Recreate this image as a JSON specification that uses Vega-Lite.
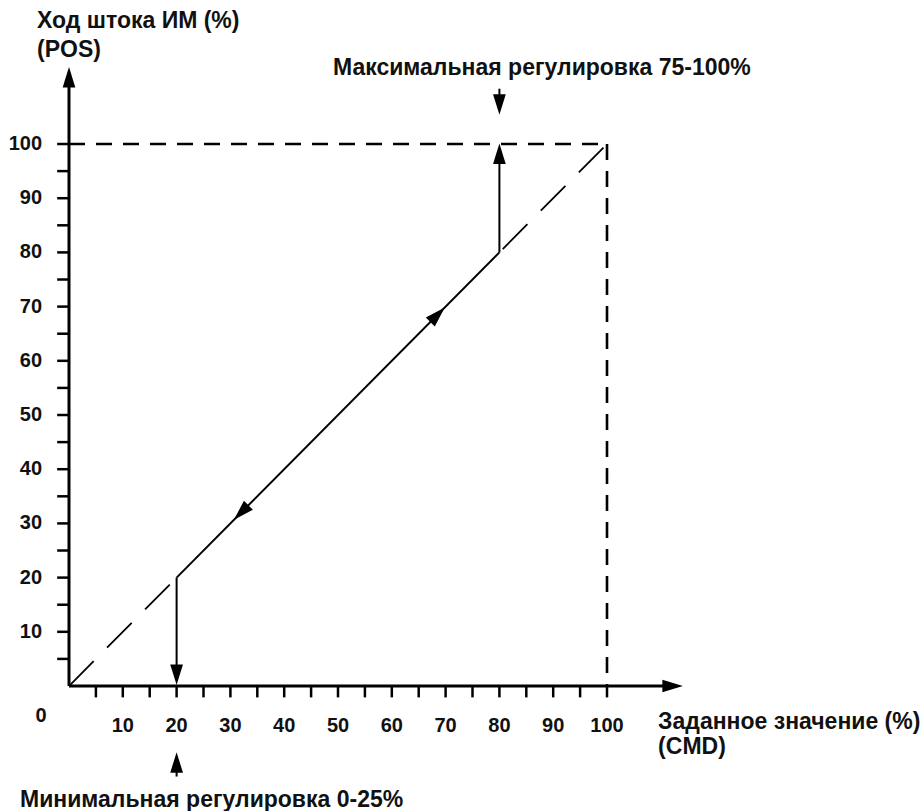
{
  "$schema": "https://vega.github.io/schema/vega-lite/v6.json",
  "width": 924,
  "height": 811,
  "padding": 0,
  "autosize": {"type": "none"},
  "background": "white",
  "config": {"view": {"stroke": null}},
  "datasets": {
    "axes": [
      {"x": 0, "y": 0, "x2": 112, "y2": 0},
      {"x": 0, "y": 0, "x2": 0, "y2": 112}
    ],
    "ticks": [
      {"v": 5}, {"v": 10}, {"v": 15}, {"v": 20}, {"v": 25}, {"v": 30}, {"v": 35}, {"v": 40}, {"v": 45}, {"v": 50},
      {"v": 55}, {"v": 60}, {"v": 65}, {"v": 70}, {"v": 75}, {"v": 80}, {"v": 85}, {"v": 90}, {"v": 95}, {"v": 100}
    ],
    "labels": [
      {"v": 10}, {"v": 20}, {"v": 30}, {"v": 40}, {"v": 50}, {"v": 60}, {"v": 70}, {"v": 80}, {"v": 90}, {"v": 100}
    ],
    "frame": [
      {"x": 0, "y": 100, "x2": 100, "y2": 100},
      {"x": 100, "y": 100, "x2": 100, "y2": 0}
    ],
    "diagLow": [{"x": 0, "y": 0, "x2": 20, "y2": 20}],
    "diagHigh": [{"x": 100, "y": 100, "x2": 80, "y2": 80}],
    "solid": [
      {"x": 20, "y": 20, "x2": 80, "y2": 80},
      {"x": 20, "y": 20, "x2": 20, "y2": 2},
      {"x": 80, "y": 80, "x2": 80, "y2": 98},
      {"x": 80, "y": 110.2, "x2": 80, "y2": 107},
      {"x": 20, "y": -16.7, "x2": 20, "y2": -14}
    ],
    "heads": [
      {"x": 112.2, "y": 0, "deg": 90},
      {"x": 0, "y": 112.3, "deg": 0},
      {"x": 20, "y": 2.1, "deg": 180},
      {"x": 80, "y": 98.2, "deg": 0},
      {"x": 32, "y": 32, "deg": 225},
      {"x": 68.5, "y": 68.5, "deg": 45},
      {"x": 80, "y": 107.3, "deg": 180},
      {"x": 20, "y": -14.1, "deg": 0}
    ],
    "notes": [
      {"x": -5.95, "y": 121.35, "text": "Ход штока ИМ (%)"},
      {"x": -5.95, "y": 116.0, "text": "(POS)"},
      {"x": 49.07, "y": 112.73, "text": "Максимальная регулировка 75-100%"},
      {"x": 109.5, "y": -7.9, "text": "Заданное значение (%)"},
      {"x": 109.5, "y": -12.5, "text": "(CMD)"},
      {"x": -9.1, "y": -22.27, "text": "Минимальная регулировка 0-25%"}
    ]
  },
  "layer": [
    {
      "data": {"name": "axes"},
      "mark": {"type": "rule", "strokeWidth": 3, "color": "#000"},
      "encoding": {
        "x": {"field": "x", "type": "quantitative", "scale": {"domain": [-12.825, 158.92], "nice": false, "zero": false}, "axis": null},
        "y": {"field": "y", "type": "quantitative", "scale": {"domain": [-23.06, 126.57], "nice": false, "zero": false}, "axis": null},
        "x2": {"field": "x2"},
        "y2": {"field": "y2"}
      }
    },
    {
      "data": {"name": "ticks"},
      "mark": {"type": "rule", "strokeWidth": 2.5, "color": "#000"},
      "encoding": {
        "x": {"field": "v", "type": "quantitative"},
        "y": {"datum": 0, "type": "quantitative"},
        "y2": {"datum": -2.1}
      }
    },
    {
      "data": {"name": "ticks"},
      "mark": {"type": "rule", "strokeWidth": 2.5, "color": "#000"},
      "encoding": {
        "y": {"field": "v", "type": "quantitative"},
        "x": {"datum": 0, "type": "quantitative"},
        "x2": {"datum": -2.2}
      }
    },
    {
      "data": {"name": "frame"},
      "mark": {"type": "rule", "strokeWidth": 2.6, "color": "#000", "strokeDash": [16, 11]},
      "encoding": {
        "x": {"field": "x", "type": "quantitative"},
        "y": {"field": "y", "type": "quantitative"},
        "x2": {"field": "x2"},
        "y2": {"field": "y2"}
      }
    },
    {
      "data": {"name": "diagLow"},
      "mark": {"type": "rule", "strokeWidth": 1.8, "color": "#000", "strokeDash": [35, 19]},
      "encoding": {
        "x": {"field": "x", "type": "quantitative"},
        "y": {"field": "y", "type": "quantitative"},
        "x2": {"field": "x2"},
        "y2": {"field": "y2"}
      }
    },
    {
      "data": {"name": "diagHigh"},
      "mark": {"type": "rule", "strokeWidth": 1.8, "color": "#000", "strokeDash": [35, 19], "strokeDashOffset": 49},
      "encoding": {
        "x": {"field": "x", "type": "quantitative"},
        "y": {"field": "y", "type": "quantitative"},
        "x2": {"field": "x2"},
        "y2": {"field": "y2"}
      }
    },
    {
      "data": {"name": "solid"},
      "mark": {"type": "rule", "strokeWidth": 2, "color": "#000"},
      "encoding": {
        "x": {"field": "x", "type": "quantitative"},
        "y": {"field": "y", "type": "quantitative"},
        "x2": {"field": "x2"},
        "y2": {"field": "y2"}
      }
    },
    {
      "data": {"name": "heads"},
      "mark": {"type": "point", "shape": "M0,-1L0.62,1L-0.62,1Z", "filled": true, "color": "#000", "opacity": 1, "size": 420, "strokeWidth": 0},
      "encoding": {
        "x": {"field": "x", "type": "quantitative"},
        "y": {"field": "y", "type": "quantitative"},
        "angle": {"field": "deg", "type": "quantitative", "scale": null}
      }
    },
    {
      "data": {"name": "labels"},
      "mark": {"type": "text", "font": "Liberation Sans", "fontWeight": "bold", "fontSize": 20, "align": "center", "baseline": "alphabetic", "color": "#111"},
      "encoding": {
        "x": {"field": "v", "type": "quantitative"},
        "y": {"datum": -8.5, "type": "quantitative"},
        "text": {"field": "v", "type": "quantitative"}
      }
    },
    {
      "data": {"name": "labels"},
      "mark": {"type": "text", "font": "Liberation Sans", "fontWeight": "bold", "fontSize": 20, "align": "right", "baseline": "middle", "color": "#111"},
      "encoding": {
        "y": {"field": "v", "type": "quantitative"},
        "x": {"datum": -5.0, "type": "quantitative"},
        "text": {"field": "v", "type": "quantitative"}
      }
    },
    {
      "data": {"values": [{"x": -5.2, "y": -6.6, "t": "0"}]},
      "mark": {"type": "text", "font": "Liberation Sans", "fontWeight": "bold", "fontSize": 20, "align": "center", "baseline": "alphabetic", "color": "#111"},
      "encoding": {
        "x": {"field": "x", "type": "quantitative"},
        "y": {"field": "y", "type": "quantitative"},
        "text": {"field": "t"}
      }
    },
    {
      "data": {"name": "notes"},
      "mark": {"type": "text", "font": "Liberation Sans", "fontWeight": "bold", "fontSize": 23, "align": "left", "baseline": "alphabetic", "color": "#111"},
      "encoding": {
        "x": {"field": "x", "type": "quantitative"},
        "y": {"field": "y", "type": "quantitative"},
        "text": {"field": "text"}
      }
    }
  ]
}
